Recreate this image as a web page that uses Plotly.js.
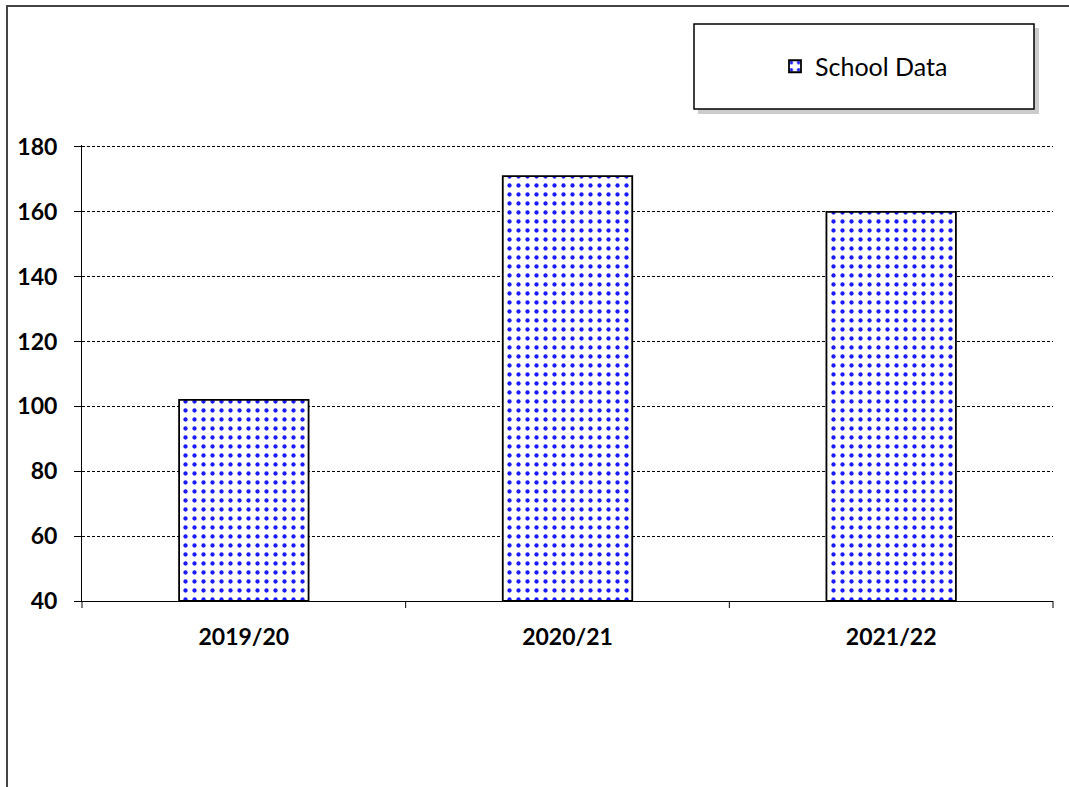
<!DOCTYPE html>
<html>
<head>
<meta charset="utf-8">
<script src="https://cdn.plot.ly/plotly-3.0.1.min.js"></script>
<style>html,body{margin:0;padding:0;background:#fff;}#chart{width:1069px;height:787px;}</style>
</head>
<body>
<div id="chart"></div>
<script>
const categories = ["2019/20", "2020/21", "2021/22"];
const schoolData = [102, 171, 160];
const seriesName = "School Data";
const yTicks = [40, 60, 80, 100, 120, 140, 160, 180];

const W = 1069, H = 787;
const M = {l: 82, r: 16, t: 145, b: 186};
const pw = W - M.l - M.r, ph = H - M.t - M.b;
const px = v => (v - M.l) / pw;
const py = v => (H - M.b - v) / ph;

const trace = {
  type: 'bar',
  x: categories,
  y: schoolData.map(v => v - 40),
  base: 40,
  name: seriesName,
  width: 0.4,
  marker: {
    color: '#ffffff',
    line: {color: '#000000', width: 1.8},
    pattern: {shape: '.', fgcolor: '#1a1aff', bgcolor: '#ffffff', size: 9, solidity: 0.18}
  },
  showlegend: true,
  hoverinfo: 'none'
};

const layout = {
  width: W, height: H,
  margin: M,
  paper_bgcolor: '#ffffff',
  plot_bgcolor: '#ffffff',
  font: {family: 'Lato, "Open Sans", sans-serif', color: '#000000'},
  xaxis: {
    type: 'category',
    showline: true, linecolor: '#000', linewidth: 1,
    ticks: '', showgrid: false,
    tickfont: {size: 23, family: 'Lato', weight: 'bold'},
    ticklabelstandoff: 15
  },
  yaxis: {
    range: [40, 180.6],
    tickvals: yTicks,
    showline: true, linecolor: '#000', linewidth: 1,
    ticks: 'outside', ticklen: 7, tickcolor: '#000', tickwidth: 1,
    showgrid: true, gridcolor: '#000', gridwidth: 1, griddash: '3px,2px',
    zeroline: false,
    tickfont: {size: 23, family: 'Lato', weight: 'bold'},
    ticklabelstandoff: 12
  },
  showlegend: true,
  legend: {
    x: (px(694) + px(1034)) / 2, y: (py(24) + py(109)) / 2,
    xanchor: 'center', yanchor: 'middle',
    bgcolor: 'rgba(0,0,0,0)', borderwidth: 0,
    font: {size: 25, family: 'Lato'},
    itemwidth: 30
  },
  shapes: [
    // outer chart frame
    {type: 'rect', xref: 'paper', yref: 'paper', x0: px(7), x1: px(1080), y0: py(800), y1: py(6),
     line: {color: '#444', width: 2}, fillcolor: 'rgba(0,0,0,0)', layer: 'below'},
    // legend shadow
    {type: 'rect', xref: 'paper', yref: 'paper', x0: px(698), x1: px(1039), y0: py(114), y1: py(28),
     line: {width: 0}, fillcolor: 'rgba(0,0,0,0.2)', layer: 'above'},
    // legend box
    {type: 'rect', xref: 'paper', yref: 'paper', x0: px(694), x1: px(1034), y0: py(109), y1: py(24),
     line: {color: '#000', width: 1.5}, fillcolor: '#ffffff', layer: 'above'},
    // category boundary tick marks on the x axis
    ...[0, 1, 2, 3].map(i => ({type: 'line', xref: 'paper', yref: 'paper', x0: i / 3, x1: i / 3,
      y0: 0, y1: py(H - M.b + 7), line: {color: '#000', width: 1}}))
  ]
};

Plotly.newPlot('chart', [trace], layout, {displayModeBar: false, staticPlot: true});
</script>
</body>
</html>
